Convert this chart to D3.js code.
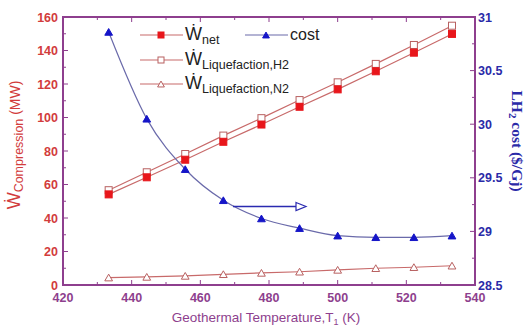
<!DOCTYPE html>
<html>
<head>
<meta charset="utf-8">
<script src="https://cdn.jsdelivr.net/npm/d3@7"></script>
<style>
  html, body { margin: 0; padding: 0; background: #fff; }
  svg { display: block; }
  text { font-family: "Liberation Sans", Arial, "DejaVu Sans", sans-serif; }
</style>
</head>
<body>
<svg id="chart" width="529" height="331"></svg>
<script>
// Geothermal temperature (K)
const temperature = [433.3, 444.4, 455.6, 466.7, 477.8, 488.9, 500, 511.1, 522.2, 533.3];
// Compression power (MW)
const wNet = [54.1, 64.3, 74.8, 85.5, 95.8, 106.4, 116.8, 127.6, 138.7, 149.9];
const wLiqH2 = [56.6, 67.3, 78.2, 89.2, 99.6, 110.4, 121.0, 132.0, 143.3, 154.8];
const wLiqN2 = [4.4, 4.8, 5.4, 6.4, 7.2, 7.9, 9.0, 10.0, 10.6, 11.5];
// LH2 cost ($/GJ)
const cost = [30.86, 30.05, 29.58, 29.29, 29.12, 29.03, 28.96, 28.945, 28.945, 28.96];

const xTicks = [420, 440, 460, 480, 500, 520, 540];
const yLeftTicks = [0, 20, 40, 60, 80, 100, 120, 140, 160];
const yRightTicks = [28.5, 29, 29.5, 30, 30.5, 31];

const frameColor = "#8e3f8e";
const leftColor = "#d23c3c";
const rightColor = "#2a2aa8";
const redLine = "#c86a6a";
const blueLine = "#6a6aaa";

const svg = d3.select("#chart");
const L = 63, R = 475, T = 17, B = 285;

const x = d3.scaleLinear().domain([420, 540]).range([L, R]);
const yL = d3.scaleLinear().domain([0, 160]).range([B, T]);
const yR = d3.scaleLinear().domain([28.5, 31]).range([B, T]);

// minor ticks, inward
const tickG = svg.append("g").attr("stroke", frameColor).attr("stroke-width", 1);
d3.range(420, 541, 10).forEach(v => {
  const len = v % 20 === 0 ? 5 : 3;
  tickG.append("line").attr("x1", x(v)).attr("x2", x(v)).attr("y1", B).attr("y2", B - len);
  tickG.append("line").attr("x1", x(v)).attr("x2", x(v)).attr("y1", T).attr("y2", T + len);
});
d3.range(0, 161, 10).forEach(v => {
  const len = v % 20 === 0 ? 5 : 3;
  tickG.append("line").attr("x1", L).attr("x2", L + len).attr("y1", yL(v)).attr("y2", yL(v));
});
d3.range(28.5, 31.01, 0.25).forEach(v => {
  const major = Math.abs(v * 2 - Math.round(v * 2)) < 1e-6;
  const len = major ? 5 : 3;
  tickG.append("line").attr("x1", R).attr("x2", R - len).attr("y1", yR(v)).attr("y2", yR(v));
});

// frame
svg.append("rect").attr("x", L).attr("y", T).attr("width", R - L).attr("height", B - T)
  .attr("fill", "none").attr("stroke", frameColor).attr("stroke-width", 2);

// tick labels
svg.append("g").selectAll("text").data(yLeftTicks).join("text")
  .attr("x", L - 5).attr("y", d => yL(d)).attr("dy", "0.36em")
  .attr("text-anchor", "end").attr("font-size", 12.5).attr("font-weight", "bold")
  .attr("fill", leftColor).text(d => d);
svg.append("g").selectAll("text").data(yRightTicks).join("text")
  .attr("x", R + 3).attr("y", d => yR(d)).attr("dy", "0.36em")
  .attr("text-anchor", "start").attr("font-size", 12.5).attr("font-weight", "bold")
  .attr("fill", rightColor).text(d => d);
svg.append("g").selectAll("text").data(xTicks).join("text")
  .attr("x", d => x(d)).attr("y", 302)
  .attr("text-anchor", "middle").attr("font-size", 12.5).attr("font-weight", "bold")
  .attr("fill", frameColor).text(d => d);

// axis titles
svg.append("text").attr("x", 266).attr("y", 322).attr("text-anchor", "middle")
  .attr("font-size", 13.5).attr("fill", frameColor)
  .html('Geothermal Temperature,T<tspan font-size="9" dy="3">1</tspan><tspan dy="-3"> (K)</tspan>');

svg.append("text").attr("transform", `translate(20,145) rotate(-90)`)
  .attr("text-anchor", "middle").attr("font-size", 14).attr("fill", leftColor)
  .html('<tspan font-size="18">Ẇ</tspan><tspan font-size="12.5" dy="3">Compression</tspan><tspan dy="-3"> (MW)</tspan>');

svg.append("text").attr("transform", `translate(512,141) rotate(90)`)
  .attr("text-anchor", "middle").attr("font-size", 15.5).attr("font-weight", "bold")
  .attr("fill", rightColor).style("font-family", '"Liberation Serif", "Times New Roman", serif')
  .html('LH<tspan font-size="11" dy="3">2</tspan><tspan dy="-3"> cost ($/Gj)</tspan>');

// series lines
const lineL = d3.line().x((d, i) => x(temperature[i])).y(d => yL(d));
const lineR = d3.line().x((d, i) => x(temperature[i])).y(d => yR(d)).curve(d3.curveMonotoneX);

[wLiqN2, wLiqH2, wNet].forEach(s => {
  svg.append("path").attr("d", lineL(s)).attr("fill", "none")
    .attr("stroke", redLine).attr("stroke-width", 1.2);
});
svg.append("path").attr("d", lineR(cost)).attr("fill", "none")
  .attr("stroke", blueLine).attr("stroke-width", 1.2);

// markers
const tri = d3.symbol().type(d3.symbolTriangle);
function square(g, cx, cy, fill, stroke, s) {
  g.append("rect").attr("x", cx - s / 2).attr("y", cy - s / 2).attr("width", s).attr("height", s)
    .attr("fill", fill).attr("stroke", stroke).attr("stroke-width", 1);
}
function triangle(g, cx, cy, fill, stroke, size) {
  g.append("path").attr("d", tri.size(size)()).attr("transform", `translate(${cx},${cy + 1})`)
    .attr("fill", fill).attr("stroke", stroke).attr("stroke-width", 1);
}
const mk = svg.append("g");
wLiqN2.forEach((v, i) => triangle(mk, x(temperature[i]), yL(v), "#fff", "#b86060", 26));
wLiqH2.forEach((v, i) => square(mk, x(temperature[i]), yL(v), "#fff", "#b86060", 7));
wNet.forEach((v, i) => square(mk, x(temperature[i]), yL(v), "#e8161b", "#e8161b", 7));
cost.forEach((v, i) => triangle(mk, x(temperature[i]), yR(v), "#1515c8", "#1515c8", 26));

// arrow pointing to the right-hand axis
const arrowY = 206.5;
svg.append("line").attr("x1", 233).attr("x2", 297).attr("y1", arrowY).attr("y2", arrowY)
  .attr("stroke", "#2a2ab0").attr("stroke-width", 1.5);
svg.append("path").attr("d", `M296,${arrowY - 4}L306,${arrowY}L296,${arrowY + 4}Z`)
  .attr("fill", "#fff").attr("stroke", "#2a2ab0").attr("stroke-width", 1.2);

// legend
const lg = svg.append("g");
function legendRow(x0, y0, kind, label, sub) {
  const col = kind === "cost" ? blueLine : redLine;
  lg.append("line").attr("x1", x0).attr("x2", x0 + 43).attr("y1", y0).attr("y2", y0)
    .attr("stroke", col).attr("stroke-width", 1.2);
  const cx = x0 + 21;
  if (kind === "net") square(lg, cx, y0, "#e8161b", "#e8161b", 6);
  if (kind === "h2") square(lg, cx, y0, "#fff", "#b86060", 6);
  if (kind === "n2") triangle(lg, cx, y0, "#fff", "#b86060", 20);
  if (kind === "cost") triangle(lg, cx, y0, "#1515c8", "#1515c8", 20);
  const t = lg.append("text").attr("x", x0 + 45).attr("y", y0 + 5)
    .attr("fill", "#222");
  if (sub) {
    t.attr("font-size", 18).text(label);
    t.append("tspan").attr("font-size", 12.5).attr("dy", 4).text(sub);
  } else {
    t.attr("font-size", 16).text(label);
  }
}
legendRow(140, 35, "net", "Ẇ", "net");
legendRow(245, 35, "cost", "cost", null);
legendRow(140, 60, "h2", "Ẇ", "Liquefaction,H2");
legendRow(140, 84, "n2", "Ẇ", "Liquefaction,N2");
</script>
</body>
</html>
